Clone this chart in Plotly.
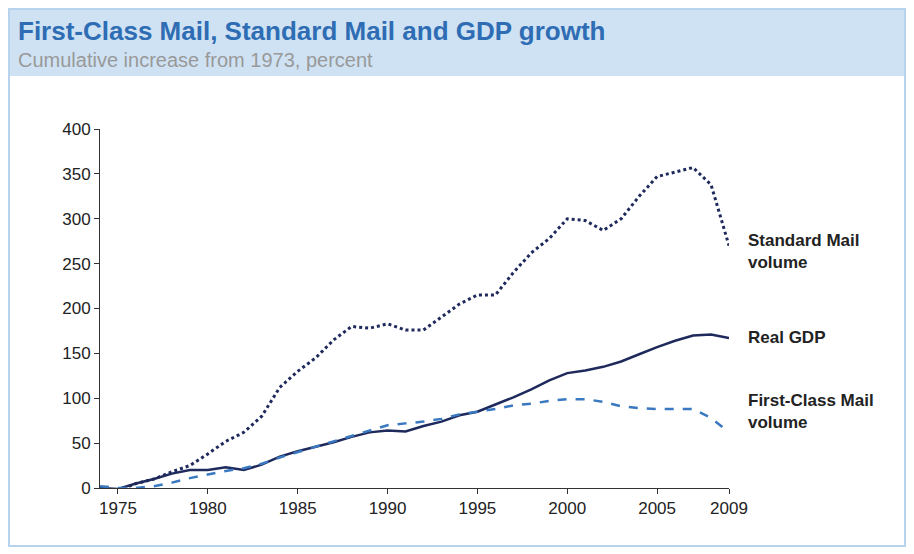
import plotly.graph_objects as go

years = list(range(1974, 2010))
standard = [0,-3,5,10,18,25,38,52,62,80,112,130,145,165,180,178,183,176,176,190,205,215,215,240,262,278,300,298,287,300,325,347,352,357,338,270]
gdp = [0,-1,5,10,16,20,20,23,20,26,35,41,46,51,57,62,64,63,69,74,81,85,93,101,110,120,128,131,135,141,149,157,164,170,171,167]
firstclass = [2,0,0,2,6,11,15,19,22,27,34,40,46,52,58,64,70,72,74,77,82,85,88,92,94,97,99,99,96,91,89,88,88,88,78,62]
tickvals = [1975,1980,1985,1990,1995,2000,2005,2009]

OFF = 8
L, T, PW, PH = 100 - OFF, 129 - OFF, 629, 359
def px(x): return (x - OFF - L) / PW
def py(y): return 1 - (y - OFF - T) / PH

fig = go.Figure()
fig.add_trace(go.Scatter(x=years, y=standard, mode="lines", line=dict(color="#1f2a5c", width=3, dash="dot")))
fig.add_trace(go.Scatter(x=years, y=gdp, mode="lines", line=dict(color="#1f2a5c", width=2.5)))
fig.add_trace(go.Scatter(x=years, y=firstclass, mode="lines", line=dict(color="#3a78c0", width=2.5, dash="dash")))

lab = dict(size=17, color="#222")
fig.update_layout(
    width=906, height=546, showlegend=False,
    margin=dict(l=L, r=906 - L - PW, t=T, b=546 - T - PH),
    paper_bgcolor="white", plot_bgcolor="white",
    font=dict(family="Arial, Liberation Sans", size=17, color="#222"),
    xaxis=dict(range=[1974, 2009], tickvals=tickvals, showgrid=False, showline=True, linecolor="#333",
               ticks="outside", ticklen=5, tickcolor="#333", zeroline=False),
    yaxis=dict(range=[0, 400], dtick=50, showgrid=False, showline=True, linecolor="#333",
               ticks="outside", ticklen=5, tickcolor="#333", zeroline=False),
    shapes=[
        dict(type="rect", xref="paper", yref="paper", x0=px(8), x1=px(906), y0=py(76), y1=py(8),
             fillcolor="#cfe2f3", line=dict(width=0), layer="below"),
        dict(type="rect", xref="paper", yref="paper", x0=px(9), x1=px(905), y0=py(546), y1=py(9),
             fillcolor="rgba(0,0,0,0)", line=dict(color="#b7d3ee", width=2)),
    ],
    annotations=[
        dict(text="<b>First-Class Mail, Standard Mail and GDP growth</b>", xref="paper", yref="paper",
             x=px(16), y=py(14), xanchor="left", yanchor="top", showarrow=False,
             font=dict(size=26, color="#2e6db4")),
        dict(text="Cumulative increase from 1973, percent", xref="paper", yref="paper",
             x=px(16), y=py(47), xanchor="left", yanchor="top", showarrow=False,
             font=dict(size=20, color="#999")),
        dict(text="<b>Standard Mail<br>volume</b>", xref="paper", yref="paper", x=px(746), y=py(251), xanchor="left", showarrow=False, align="left", font=lab),
        dict(text="<b>Real GDP</b>", xref="paper", yref="paper", x=px(746), y=py(337), xanchor="left", showarrow=False, align="left", font=lab),
        dict(text="<b>First-Class Mail<br>volume</b>", xref="paper", yref="paper", x=px(746), y=py(434), xanchor="left", showarrow=False, align="left", font=lab),
    ],
)
fig.write_html("out.html")
